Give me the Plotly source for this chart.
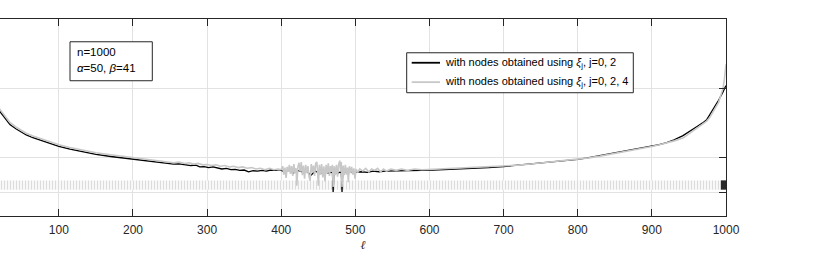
import numpy as np
import plotly.graph_objects as go

# ---- data (log10 of the plotted quantity) ----
black_idx = [1, 2, 3, 4, 6, 8, 12, 16, 21, 26, 34, 42, 48, 56, 65, 78, 90, 100, 115, 132, 150, 170, 185, 200,
             215, 230, 245, 255, 262, 270, 278, 285, 290, 296, 302, 308, 314, 320, 326, 332, 338, 344, 350,
             356, 362, 368, 374, 380, 386, 392, 398, 404, 410, 416, 422, 428, 434, 440, 446, 452, 458, 464,
             469, 470, 471, 476, 481, 482, 483, 488, 494, 500, 508, 516, 524, 532, 540, 550, 560, 575, 590,
             605, 620, 635, 650, 665, 680, 700, 720, 740, 760, 780, 800, 815, 830, 845, 860, 875, 890, 900,
             910, 920, 930, 942, 950, 956, 962, 968, 974, 978, 982, 986, 990, 993, 996, 998, 1000]
black_log = [-13.35, -13.62, -13.85, -13.98, -14.07, -14.12, -14.2, -14.27, -14.34, -14.42, -14.52, -14.58,
             -14.62, -14.67, -14.71, -14.76, -14.80, -14.835, -14.875, -14.915, -14.95, -14.98, -15.0, -15.022,
             -15.045, -15.06, -15.075, -15.09, -15.085, -15.10, -15.11, -15.105, -15.13, -15.125, -15.14,
             -15.13, -15.15, -15.16, -15.15, -15.17, -15.165, -15.18, -15.175, -15.2, -15.185, -15.19, -15.18,
             -15.19, -15.175, -15.18, -15.17, -15.2, -15.17, -15.22, -15.18, -15.2, -15.19, -15.25, -15.19,
             -15.23, -15.2, -15.22, -15.2, -15.49, -15.2, -15.22, -15.2, -15.49, -15.2, -15.21, -15.2, -15.21,
             -15.2, -15.21, -15.19, -15.2, -15.19, -15.19, -15.185, -15.18, -15.18, -15.175, -15.17, -15.165,
             -15.16, -15.15, -15.14, -15.125, -15.105, -15.085, -15.065, -15.045, -15.022, -14.995, -14.965,
             -14.94, -14.915, -14.885, -14.855, -14.835, -14.81, -14.78, -14.74, -14.68, -14.62, -14.58,
             -14.54, -14.5, -14.45, -14.38, -14.3, -14.24, -14.17, -14.12, -14.05, -14.0, -13.96]

gray_idx = [1, 2, 3, 4, 6, 8, 12, 16, 21, 26, 34, 42, 48, 56, 65, 78, 90, 100, 115, 132, 150, 170, 185, 200,
            215, 230, 245, 255, 262, 270, 276, 282, 288, 294, 300, 306, 312, 318, 324, 330, 336, 342, 348,
            354, 360, 366, 372, 378, 384, 390, 396,
            400, 402, 403.5, 405, 406.5, 408, 409.5, 411, 412.5, 414, 415.5, 417, 418.5, 420, 421, 422.5,
            424, 425.5, 427, 428.5, 430, 431.5, 433, 434.5, 436, 437.5, 439, 440.5, 442, 443.5, 445, 446.5,
            448, 449, 450, 451.5, 453, 454.5, 456, 457.5, 459, 460.5, 462, 463.5, 465, 466.5, 468, 469,
            470, 471.5, 473, 474.5, 476, 477.5, 479, 480, 481, 482, 483.5, 485, 486.5, 488, 489.5, 490.5,
            492, 493.5, 495, 496.5, 498, 499.5, 501, 503,
            506, 510, 514, 518, 522, 526, 530, 534, 538, 542, 548, 555,
            562, 570, 580, 590, 600, 620, 640, 660, 680, 700, 720, 740, 760, 780, 800, 815, 830, 845, 860,
            875, 890, 900, 910, 920, 930, 942, 950, 956, 962, 968, 974, 978, 982, 986, 990, 993, 996, 998, 1000]
gray_log = [-13.3, -13.58, -13.8, -13.94, -14.04, -14.09, -14.17, -14.24, -14.31, -14.39, -14.49, -14.555,
            -14.595, -14.645, -14.685, -14.735, -14.775, -14.81, -14.85, -14.89, -14.925, -14.955, -14.975,
            -15.0, -15.02, -15.04, -15.055, -15.07, -15.06, -15.08, -15.07, -15.09, -15.08, -15.1, -15.095,
            -15.11, -15.1, -15.12, -15.11, -15.13, -15.12, -15.14, -15.13, -15.15, -15.14, -15.16, -15.15,
            -15.17, -15.15, -15.17, -15.16,
            -15.17, -15.12, -15.24, -15.14, -15.29, -15.13, -15.2, -15.1, -15.23, -15.12, -15.26, -15.09,
            -15.22, -15.15, -15.4, -15.13,
            -15.07, -15.2, -15.06, -15.25, -15.11, -15.3, -15.1, -15.22, -15.12, -15.27, -15.33, -15.09,
            -15.21, -15.11, -15.26, -15.08,
            -15.06, -15.18, -15.4, -15.1, -15.24, -15.09, -15.28, -15.12, -15.34, -15.1, -15.22, -15.08,
            -15.26, -15.12, -15.2, -15.1,
            -15.42, -15.12, -15.25, -15.1, -15.27, -15.09, -15.04, -15.2, -15.06, -15.42, -15.11, -15.25,
            -15.1, -15.24, -15.14, -15.35,
            -15.12, -15.22, -15.13, -15.24, -15.15, -15.3, -15.16, -15.21,
            -15.16, -15.19, -15.15, -15.2, -15.16, -15.18, -15.15, -15.2, -15.16, -15.19, -15.16, -15.18,
            -15.16, -15.18, -15.16, -15.17, -15.165, -15.16, -15.15, -15.14,
            -15.13, -15.12, -15.105, -15.085, -15.065, -15.045, -15.02, -15.0, -14.975, -14.945, -14.92,
            -14.895, -14.865, -14.835, -14.81, -14.785, -14.755, -14.715, -14.655, -14.6, -14.555, -14.515,
            -14.47, -14.42, -14.35, -14.27, -14.2, -14.1, -14.0, -13.85, -13.65, -13.3]

# machine-precision band (dense oscillating values) and dark block at the right end
band_idx = [1, 1000]
band_low_log = [-15.458, -15.458]
band_high_log = [-15.324, -15.324]
block_idx = [993, 1000]
block_low_log = [-15.458, -15.458]
block_high_log = [-15.324, -15.324]

x_ticks = [100, 200, 300, 400, 500, 600, 700, 800, 900, 1000]
y_ticks_log = [-15.5, -15, -14, -13]

legend_names = ["with nodes obtained using <i>ξ</i><sub>j</sub>, j=0, 2",
                "with nodes obtained using <i>ξ</i><sub>j</sub>, j=0, 2, 4"]
info_lines = ["n=1000", "<i>α</i>=50, <i>β</i>=41"]

def p10(v):
    return [10.0 ** t for t in v]

FONT = "Liberation Sans, Arial, Helvetica, sans-serif"
AX = "#262626"
BLACK = "#000000"
GRAY = "#c8c8c8"

W, H = 817, 255
ml, mr, mt, mb = 0, 91, 18.5, 39.3
pw = W - ml - mr
ph = H - mt - mb

def px(x):
    return x / pw

def py(y):
    return 1 - (y - mt) / ph

fig = go.Figure()
fig.add_trace(go.Scatter(x=band_idx, y=p10(band_low_log), mode="lines", line=dict(width=0),
                         showlegend=False, hoverinfo="skip"))
fig.add_trace(go.Scatter(x=band_idx, y=p10(band_high_log), mode="lines", line=dict(width=0),
                         fill="tonexty", fillcolor="rgba(0,0,0,0)",
                         fillpattern=dict(shape="|", size=3, solidity=0.3, fgcolor="#d9d9d9",
                                          bgcolor="#f8f8f8", fillmode="replace"),
                         showlegend=False, hoverinfo="skip"))
fig.add_trace(go.Scatter(x=block_idx, y=p10(block_low_log), mode="lines", line=dict(width=0),
                         showlegend=False, hoverinfo="skip"))
fig.add_trace(go.Scatter(x=block_idx, y=p10(block_high_log), mode="lines", line=dict(width=0),
                         fill="tonexty", fillcolor="#2a2a2a", showlegend=False, hoverinfo="skip"))
fig.add_trace(go.Scatter(x=black_idx, y=p10(black_log), mode="lines", name=legend_names[0],
                         line=dict(color=BLACK, width=1.3), showlegend=False))
fig.add_trace(go.Scatter(x=gray_idx, y=p10(gray_log), mode="lines", name=legend_names[1],
                         line=dict(color=GRAY, width=1.6), showlegend=False))

shapes = []
annotations = []

# info box
shapes.append(dict(type="rect", xref="paper", yref="paper", x0=px(70), x1=px(152.3), y0=py(80.3), y1=py(41.3),
                   line=dict(color=AX, width=1), fillcolor="white", layer="above"))
for i, t in enumerate(info_lines):
    annotations.append(dict(xref="paper", yref="paper", x=px(74.5), y=py(51.7 + 16.0 * i),
                            xanchor="left", yanchor="middle", text=t, showarrow=False,
                            font=dict(family=FONT, size=11.5, color="#000")))

# legend box (drawn manually)
shapes.append(dict(type="rect", xref="paper", yref="paper", x0=px(406.7), x1=px(633.3), y0=py(92.3), y1=py(52.3),
                   line=dict(color=AX, width=1), fillcolor="white", layer="above"))
for i, (name, col, lw) in enumerate([(legend_names[0], BLACK, 1.8), (legend_names[1], GRAY, 1.8)]):
    yy = 62.3 + 19.4 * i
    shapes.append(dict(type="line", xref="paper", yref="paper", x0=px(411.7), x1=px(440), y0=py(yy), y1=py(yy),
                       line=dict(color=col, width=lw), layer="above"))
    annotations.append(dict(xref="paper", yref="paper", x=px(442.5), y=py(yy), xanchor="left", yanchor="middle",
                            text=name, showarrow=False, font=dict(family=FONT, size=11, color="#000")))

fig.update_layout(
    width=W, height=H,
    margin=dict(l=ml, r=mr, t=mt, b=mb),
    paper_bgcolor="white", plot_bgcolor="white",
    font=dict(family=FONT, size=12, color=AX),
    showlegend=False,
    shapes=shapes,
    annotations=annotations,
    xaxis=dict(range=[20.6, 1000], tickvals=x_ticks, ticks="inside", ticklen=7, tickcolor=AX,
               showline=True, linecolor=AX, linewidth=1, mirror="ticks",
               showgrid=True, gridcolor="#e2e2e2", gridwidth=1, zeroline=False,
               tickfont=dict(family=FONT, size=12, color=AX), ticklabelstandoff=3,
               title=dict(text="<i>ℓ</i>", font=dict(family="DejaVu Serif", size=12, color=AX), standoff=4)),
    yaxis=dict(type="log", range=[-15.837, -13], side="right",
               tickvals=p10(y_ticks_log), ticks="inside", ticklen=7, tickcolor=AX,
               showline=True, linecolor=AX, linewidth=1, mirror=False,
               showgrid=True, gridcolor="#e2e2e2", gridwidth=1, zeroline=False,
               showticklabels=False),
)

fig.write_html("out.html", post_script="document.body.style.margin='0';",
               config={"displayModeBar": False})
